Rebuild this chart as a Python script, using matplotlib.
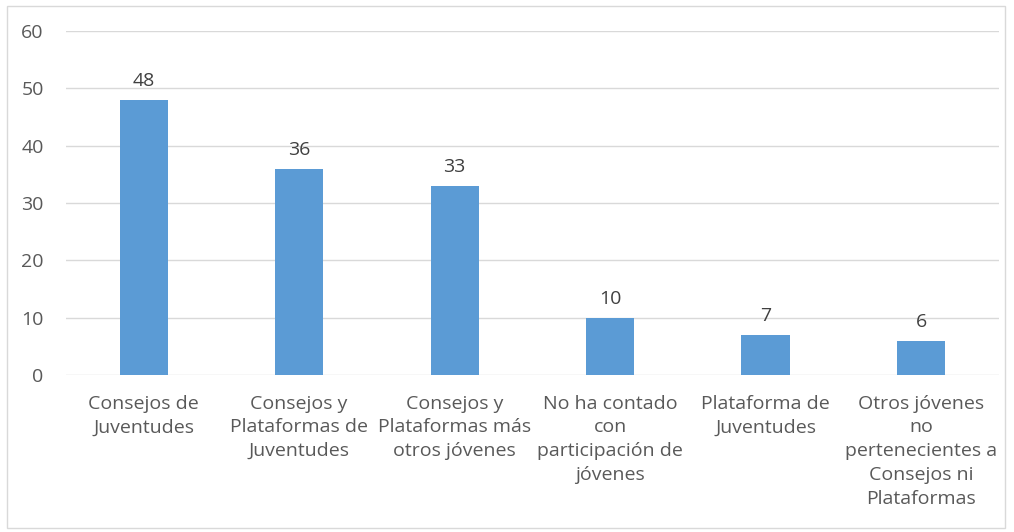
import matplotlib.pyplot as plt
from matplotlib.patches import Rectangle

categorias = ['Consejos de\nJuventudes',
              'Consejos y\nPlataformas de\nJuventudes',
              'Consejos y\nPlataformas más\notros jóvenes',
              'No ha contado\ncon\nparticipación de\njóvenes',
              'Plataforma de\nJuventudes',
              'Otros jóvenes\nno\npertenecientes a\nConsejos ni\nPlataformas']
valores = [48, 36, 33, 10, 7, 6]
yticks = [0, 10, 20, 30, 40, 50, 60]

gris = '#595959'
plt.rcParams['font.family'] = ['Open Sans', 'DejaVu Sans']

fig = plt.figure(figsize=(10.14, 5.32), dpi=100)
ax = fig.add_axes([0.065, 0.295, 0.92, 0.647])

x = range(len(categorias))
bars = ax.bar(x, valores, width=0.31, color='#5B9BD5', zorder=3)
for b, v in zip(bars, valores):
    ax.annotate(str(v), (b.get_x() + b.get_width() / 2, v), xytext=(0, 7),
                textcoords='offset points', ha='center', va='bottom',
                fontsize=14, color='#404040')

ax.set_xlim(-0.5, len(categorias) - 0.5)
ax.set_ylim(0, 60)
ax.set_yticks(yticks)
ax.set_xticks(list(x))
ax.set_xticklabels(categorias, fontsize=14, color=gris, linespacing=1.42)
ax.tick_params(axis='y', labelsize=14, labelcolor=gris, length=0, pad=16)
ax.tick_params(axis='x', length=0, pad=14)
ax.grid(axis='y', color='#D9D9D9', linewidth=1, zorder=0)
for s in ax.spines.values():
    s.set_visible(False)

# borde exterior del grafico
fig.patches.append(Rectangle((0.007, 0.008), 0.984, 0.981, transform=fig.transFigure,
                             fill=False, edgecolor='#D9D9D9', linewidth=1))

fig.savefig('out.png', dpi=100)
